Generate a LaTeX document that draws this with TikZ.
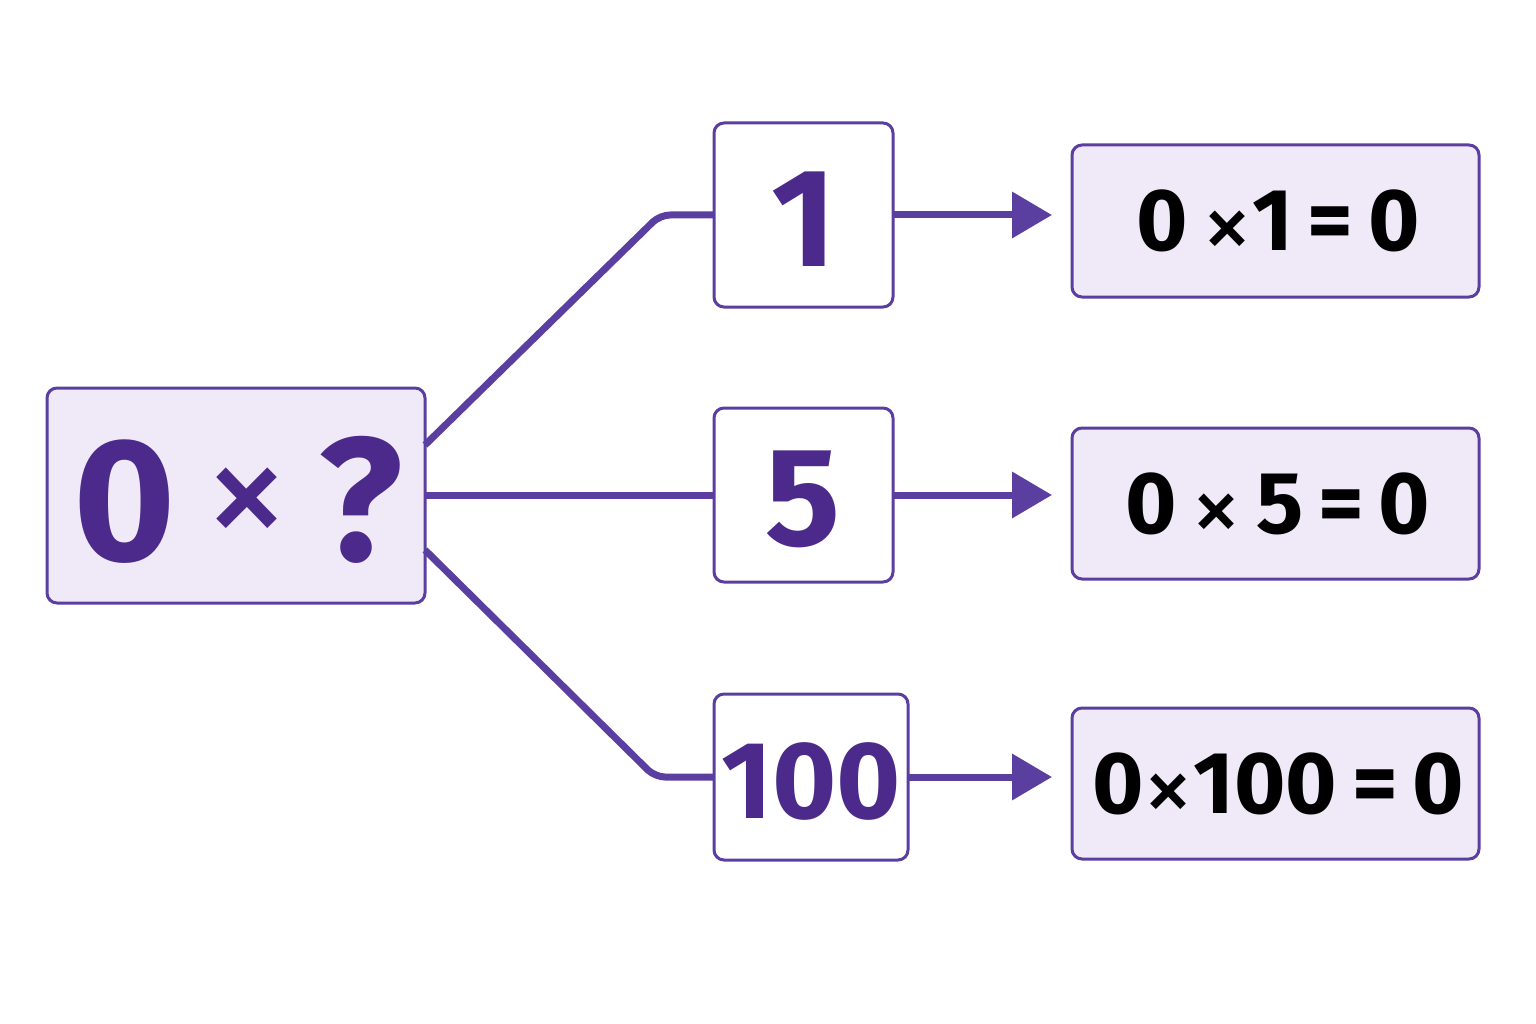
\documentclass[tikz,border=0pt]{standalone}
\usepackage{fontspec}
\setmainfont{Fira Sans}
\usetikzlibrary{arrows.meta}
\definecolor{pur}{HTML}{5B3FA0}
\definecolor{dpur}{HTML}{4B2A8C}
\definecolor{lav}{HTML}{EFE9F8}
\newcommand{\bx}[2]{\raisebox{#2em}{\fontsize{#1}{#1}\selectfont\mdseries×}}
\tikzset{
 box/.style={draw=pur,line width=3pt,rounded corners=10pt},
 conn/.style={draw=pur,line width=7pt,rounded corners=10pt},
 arr/.style={conn,-{Triangle[length=40pt,width=45pt]}},
}
\begin{document}
\begin{tikzpicture}[x=1pt,y=-1pt]
\useasboundingbox (0,0) rectangle (1536,1024);
\draw[box,fill=lav] (47,388) rectangle (425,603);
\node[text=dpur,font=\fontsize{175}{175}\bfseries] at (238,500) {0\,\bx{170}{0.06}\,?};
\foreach \n/\xa/\ya/\xb/\yb/\t/\fs in {a/714/123/893/307/1/140,b/714/408/893/582/5/140,c/714/694/908/860/100/110}{
 \draw[box,fill=white] (\xa,\ya) rectangle (\xb,\yb);
 \coordinate (\n L) at (\xa,{(\ya+\yb)/2});
 \coordinate (\n R) at (\xb,{(\ya+\yb)/2});
 \node[text=dpur,font=\fontsize{\fs}{\fs}\bfseries] at ({(\xa+\xb)/2},{(\ya+\yb)/2+4}) {\t};
}
\foreach \n/\ya/\yb/\t in {p/145/297/{0\,\bx{100}{-0.1}1\,=\,0},q/428/579/{0\,\bx{100}{-0.1}\,5\,=\,0},r/708/859/{0\bx{100}{-0.1}100\,=\,0}}{
 \draw[box,fill=lav] (1072,\ya) rectangle (1479,\yb);
 \coordinate (\n) at (1052,{(\ya+\yb)/2});
 \node[font=\fontsize{88}{88}\bfseries] at (1278,{(\ya+\yb)/2+4}) {\t};
}
\coordinate (s1) at (425,445); \coordinate (s2) at (425,495); \coordinate (s3) at (425,550);
\draw[conn] (s1) -- (660,215) -- (aL);
\draw[conn] (s2) -- (bL);
\draw[conn] (s3) -- (655,777) -- (cL);
\draw[arr] (aR) -- (p|-aR);
\draw[arr] (bR) -- (q|-bR);
\draw[arr] (cR) -- (r|-cR);
\end{tikzpicture}
\end{document}
